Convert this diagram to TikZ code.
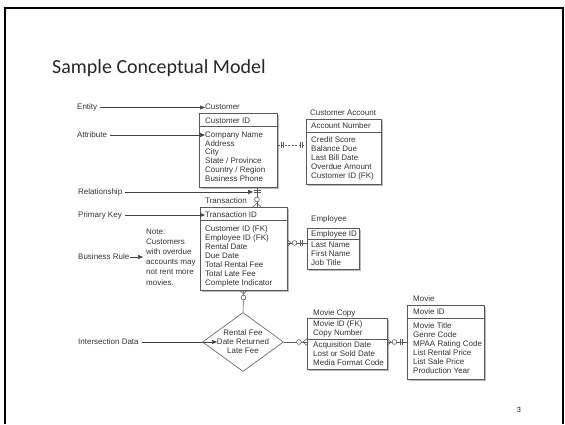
\documentclass[tikz,border=0pt]{standalone}
\usepackage{fontspec}
\setmainfont{Carlito}
\newfontfamily\arialf{Liberation Sans}
\usetikzlibrary{shapes.geometric,shadows,arrows.meta,calc}
\begin{document}
\begin{tikzpicture}[x=1pt,y=-1pt,
  txt/.style={font=\arialf\fontsize{8}{9}\selectfont, text=black!80, inner sep=0pt, anchor=west, text height=5.8pt, text depth=1.6pt},
  ctxt/.style={txt, anchor=center},
  ebox/.style={draw=black!65, line width=0.6pt, fill=white, anchor=north west, inner sep=0pt,
    drop shadow={shadow xshift=1.6pt, shadow yshift=-1.6pt, fill=black!45, opacity=0.6}},
  rel/.style={draw=black!65, line width=0.6pt},
  relo/.style={draw=black!65, line width=0.6pt, fill=white},
  lbl/.style={draw=black!75, line width=0.6pt, -{Triangle[length=5pt,width=4pt]}},
  frame/.style={line width=2pt, black, line join=miter}]
\useasboundingbox (0,0) rectangle (565,424);
\draw[frame] (5,424) -- (5,8) -- (563,8) -- (563,424);

% title and page number
\node[font=\fontsize{20}{24}\selectfont, text=black!85, anchor=base west, inner sep=0pt] (title) at (52,73) {Sample Conceptual Model};
\node[font=\fontsize{8}{9}\selectfont, inner sep=0pt] (pg) at (519,410) {3};

% ---------- Customer ----------
\node[ebox, minimum width=78pt, minimum height=74pt] (cust) at (199,113) {};
\draw[rel] ($(cust.north west)+(0,13)$) -- ($(cust.north east)+(0,13)$);
\node[txt] (custlbl) at (205,107.5) {Customer};
\node[txt] (custid) at (205,121) {Customer ID};
\foreach \t [count=\i from 0] in {Company Name,Address,City,State / Province,Country / Region,Business Phone}
  \node[txt] (cust-\i) at (205,135+8.9*\i) {\t};

% ---------- Customer Account ----------
\node[ebox, minimum width=75pt, minimum height=65pt] (acct) at (306,119) {};
\draw[rel] ($(acct.north west)+(0,13)$) -- ($(acct.north east)+(0,13)$);
\node[txt] (acctlbl) at (310,113) {Customer Account};
\node[txt] (acctid) at (311,126) {Account Number};
\foreach \t [count=\i from 0] in {Credit Score,Balance Due,Last Bill Date,Overdue Amount,Customer ID (FK)}
  \node[txt] (acct-\i) at (311,140+9*\i) {\t};

% ---------- Transaction ----------
\node[ebox, minimum width=87pt, minimum height=83pt] (trans) at (200,207) {};
\draw[rel] ($(trans.north west)+(0,13)$) -- ($(trans.north east)+(0,13)$);
\node[txt] (translbl) at (205,201) {Transaction};
\node[txt] (transid) at (205,215) {Transaction ID};
\foreach \t [count=\i from 0] in {Customer ID (FK),Employee ID (FK),Rental Date,Due Date,Total Rental Fee,Total Late Fee,Complete Indicator}
  \node[txt] (trans-\i) at (205,229+9*\i) {\t};

% ---------- Employee ----------
\node[ebox, minimum width=52pt, minimum height=41pt] (emp) at (307,228) {};
\draw[rel] ($(emp.north west)+(0,11)$) -- ($(emp.north east)+(0,11)$);
\node[txt] (emplbl) at (311,219) {Employee};
\node[txt] (empid) at (311,234) {Employee ID};
\foreach \t [count=\i from 0] in {Last Name,First Name,Job Title}
  \node[txt] (emp-\i) at (311,245+9*\i) {\t};

% ---------- Movie Copy ----------
\node[ebox, minimum width=80pt, minimum height=51pt] (mcopy) at (307,318) {};
\draw[rel] ($(mcopy.north west)+(0,21)$) -- ($(mcopy.north east)+(0,21)$);
\node[txt] (mcopylbl) at (313,313) {Movie Copy};
\node[txt] (mcopyid1) at (313,324) {Movie ID (FK)};
\node[txt] (mcopyid2) at (313,333) {Copy Number};
\foreach \t [count=\i from 0] in {Acquisition Date,Lost or Sold Date,Media Format Code}
  \node[txt] (mcopy-\i) at (313,345+9*\i) {\t};

% ---------- Movie ----------
\node[ebox, minimum width=77pt, minimum height=74pt] (movie) at (407,305) {};
\draw[rel] ($(movie.north west)+(0,13)$) -- ($(movie.north east)+(0,13)$);
\node[txt] (movielbl) at (413,299) {Movie};
\node[txt] (movieid) at (413,312) {Movie ID};
\foreach \t [count=\i from 0] in {Movie Title,Genre Code,MPAA Rating Code,List Rental Price,List Sale Price,Production Year}
  \node[txt] (movie-\i) at (413,326+9*\i) {\t};

% ---------- Intersection diamond ----------
\node[draw=black!65, line width=0.6pt, fill=white, shape=diamond, minimum width=81pt, minimum height=59pt, inner sep=0pt] (dia) at (243,342) {};
\node[ctxt] (dia-0) at (243,333) {Rental Fee};
\node[ctxt] (dia-1) at (243,342.5) {Date Returned};
\node[ctxt] (dia-2) at (243,351.5) {Late Fee};

% ---------- Relationships ----------
% Customer -- Customer Account
\coordinate (ry1) at (0,145);
\draw[rel, dash pattern=on 2pt off 1.5pt] (cust.east |- ry1) -- (acct.west |- ry1);
\draw[rel] (281,142)--(281,148) (283,142)--(283,148) (300,142)--(300,148) (302,142)--(302,148);

% Customer -- Transaction
\coordinate (rx1) at (257,0);
\draw[rel] (cust.south -| rx1) -- (trans.north -| rx1);
\draw[rel] (253.5,190)--(260.5,190) (253.5,192.5)--(260.5,192.5);
\draw[rel] (257,203)--(253,207) (257,203)--(261,207);
\draw[relo] (257,199.5) circle (2.4);

% Transaction -- Employee
\coordinate (ry2) at (0,243);
\draw[rel] (trans.east |- ry2) -- (emp.west |- ry2);
\draw[rel] (291,243)--(287,239.5) (291,243)--(287,246.5);
\draw[relo] (294.5,243) circle (2.4);
\draw[rel] (300,240)--(300,246) (302,240)--(302,246);

% Transaction -- Intersection
\draw[rel] (trans.south) -- (dia.north);
\draw[rel] (243.5,294)--(239.5,290) (243.5,294)--(247.5,290);
\draw[relo] (243.5,297.5) circle (2.4);

% Intersection -- Movie Copy
\coordinate (ry3) at (0,342);
\draw[rel] (dia.east) -- (mcopy.west |- ry3);
\draw[rel] (303,342)--(307,338.5) (303,342)--(307,345.5);
\draw[relo] (299,342) circle (2.4);

% Movie Copy -- Movie
\draw[rel] (mcopy.east |- ry3) -- (movie.west |- ry3);
\draw[rel] (391,342)--(387,338.5) (391,342)--(387,345.5);
\draw[relo] (394.5,342) circle (2.4);
\draw[rel] (400.5,339)--(400.5,345) (402.5,339)--(402.5,345);

% ---------- Legend labels ----------
\node[txt] (lentity) at (77,107.5) {Entity};
\draw[lbl] ([xshift=3pt]lentity.east) -- (lentity.east -| custlbl.west);

\node[txt] (lattr) at (77,135) {Attribute};
\draw[lbl] ([xshift=3pt]lattr.east) -- (lattr.east -| cust-0.west);

\node[txt] (lrel) at (78,192) {Relationship};
\coordinate (reltip) at (253,192);
\draw[lbl] ([xshift=3pt]lrel.east) -- (reltip);

\node[txt] (lpk) at (78,215) {Primary Key};
\draw[lbl] ([xshift=3pt]lpk.east) -- (lpk.east -| transid.west);

\node[txt] (lbr) at (78,257) {Business Rule};
\coordinate (brtip) at (143,257);
\draw[lbl] (lbr.east) -- (brtip);
\foreach \t [count=\i from 0] in {Note:,Customers,with overdue,accounts may,not rent more,movies.}
  \node[txt] (note-\i) at (146,232+10.2*\i) {\t};

\node[txt] (lint) at (78,342) {Intersection Data};
\coordinate (inttip) at (217,342);
\draw[lbl] ([xshift=3pt]lint.east) -- (inttip);
\end{tikzpicture}
\end{document}
